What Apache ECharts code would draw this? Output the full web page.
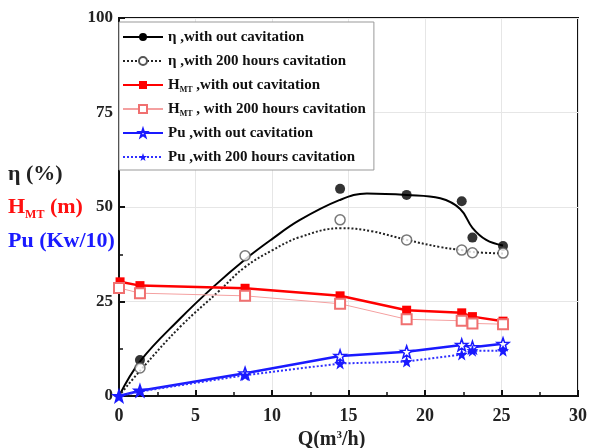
<!DOCTYPE html>
<html>
<head>
<meta charset="utf-8">
<script src="https://cdn.jsdelivr.net/npm/echarts@6/dist/echarts.min.js"></script>
<style>
  html, body { margin: 0; padding: 0; background: #fff; }
  #chart { width: 591px; height: 448px; }
</style>
</head>
<body>
<div id="chart"></div>
<script>
// measured points [Q, value]
const etaNoCav = [[1.37, 9.5], [14.45, 54.8], [18.8, 53.2], [22.4, 51.5], [23.1, 41.9], [25.1, 39.7]];
const eta200h = [[1.37, 7.4], [8.24, 37.1], [14.45, 46.6], [18.8, 41.3], [22.4, 38.6], [23.1, 37.9], [25.1, 37.8]];
// fitted curves
const etaNoCavFit = [[0, 0], [1.4, 9.3], [4, 20.5], [6.2, 29], [8.2, 36], [10, 41.5], [11.8, 46.5], [14.4, 51.8],
  [16.2, 53.6], [18.8, 53.2], [21, 52.3], [22.3, 49.5], [23.1, 44.5], [24, 41.3], [25.1, 39.8]];
const eta200hFit = [[0, 0], [1.4, 6.8], [4, 18.3], [6.6, 28], [8.2, 34], [10, 38.5], [11.8, 42], [14.5, 44.4],
  [16.5, 43.6], [18.8, 41.3], [21, 39.4], [22.4, 38.6], [23.1, 38.1], [25.1, 37.7]];
const hmtNoCav = [[0.07, 30.2], [1.37, 29.2], [8.24, 28.5], [14.45, 26.5], [18.8, 22.7], [22.4, 22], [23.1, 21], [25.1, 19.8]];
const hmt200h = [[0, 28.6], [1.37, 27.2], [8.24, 26.5], [14.45, 24.4], [18.8, 20.3], [22.4, 19.9], [23.1, 19.2], [25.1, 19]];
const puNoCav = [[0, 0], [1.37, 1.4], [8.24, 6], [14.45, 10.6], [18.8, 11.7], [22.4, 13.5], [23.1, 12.9], [25.1, 13.8]];
const pu200h = [[0, 0], [1.37, 1.2], [8.24, 5.5], [14.45, 8.6], [18.8, 9.1], [22.4, 11], [23.1, 12], [25.1, 12]];

const legendNames = [
  "η ,with out cavitation",
  "η ,with 200 hours cavitation",
  "H_MT ,with out cavitation",
  "H_MT , with 200 hours cavitation",
  "Pu ,with out cavitation",
  "Pu ,with 200 hours cavitation",
];

const serif = "Liberation Serif";
const star = "path://M0,-10 L2.35,-3.24 L9.51,-3.09 L3.8,1.24 L5.88,8.09 L0,4 L-5.88,8.09 L-3.8,1.24 L-9.51,-3.09 L-2.35,-3.24 Z";
const chart = echarts.init(document.getElementById("chart"));

const axisLabel = { color: "#222", fontFamily: serif, fontWeight: "bold", fontSize: 17 };

chart.setOption({
  animation: false,
  grid: {
    left: 119, right: 13, top: 18, bottom: 52, outerBoundsMode: "none",
    show: true, borderColor: "#111", borderWidth: 2,
  },
  legend: {
    data: legendNames,
    orient: "vertical",
    left: 119,
    top: 22,
    padding: [6, 8, 4, 3],
    itemGap: 6,
    itemWidth: 40,
    itemHeight: 10,
    backgroundColor: "#fff",
    borderColor: "#999",
    borderWidth: 1,
    borderRadius: 0,
    formatter: (name) => name.replace("H_MT", "H{s|MT}"),
    textStyle: {
      color: "#111",
      fontFamily: serif,
      fontWeight: "bold",
      fontSize: 15,
      lineHeight: 18,
      rich: {
        s: { fontFamily: serif, fontWeight: "bold", fontSize: 8, verticalAlign: "bottom", lineHeight: 18, color: "#111" },
      },
    },
  },
  xAxis: {
    type: "value",
    min: 0,
    max: 30,
    interval: 5,
    name: "Q(m{sup|3}/h)",
    nameLocation: "middle",
    nameGap: 33,
    nameTextStyle: {
      color: "#222", fontFamily: serif, fontWeight: "bold", fontSize: 20, padding: [0, 34, 0, 0],
      rich: { sup: { fontFamily: serif, fontWeight: "bold", fontSize: 11, verticalAlign: "top", color: "#222" } },
    },
    axisLine: { lineStyle: { color: "#111", width: 2 } },
    axisTick: { inside: true, length: 6, lineStyle: { color: "#111", width: 2 } },
    minorTick: { show: true, splitNumber: 2, length: 4, lineStyle: { color: "#111", width: 1.5 } },
    axisLabel: { ...axisLabel, fontSize: 18, margin: 11 },
    splitLine: { show: true, lineStyle: { color: "#e6e6e6", width: 1 } },
  },
  yAxis: {
    type: "value",
    min: 0,
    max: 100,
    interval: 25,
    axisLine: { show: true, lineStyle: { color: "#111", width: 2 } },
    axisTick: { show: true, inside: true, length: 6, lineStyle: { color: "#111", width: 2 } },
    minorTick: { show: true, splitNumber: 2, length: 4, lineStyle: { color: "#111", width: 1.5 } },
    axisLabel: { ...axisLabel, margin: 6 },
    splitLine: { show: true, lineStyle: { color: "#e6e6e6", width: 1 } },
  },
  graphic: [
    { type: "text", left: 8, top: 163, style: { text: "η (%)", fill: "#222", font: `bold 22px "${serif}"` } },
    {
      type: "text", left: 8, top: 196,
      style: {
        text: "H{s|MT} (m)", fill: "#ff1010", font: `bold 22px "${serif}"`,
        rich: { s: { fill: "#ff1010", font: `bold 12px "${serif}"`, verticalAlign: "bottom", lineHeight: 28 } },
      },
    },
    { type: "text", left: 8, top: 230, style: { text: "Pu (Kw/10)", fill: "#1a1aff", font: `bold 22px "${serif}"` } },
  ],
  series: [
    {
      name: legendNames[0], type: "line", data: etaNoCavFit, smooth: 0.4, showSymbol: false,
      symbol: "circle", itemStyle: { color: "#000" }, lineStyle: { color: "#000", width: 2 }, z: 3,
    },
    {
      name: legendNames[1], type: "line", data: eta200hFit, smooth: 0.4, showSymbol: false,
      symbol: "emptyCircle", itemStyle: { color: "#555" }, lineStyle: { color: "#222", width: 2, type: "dotted" }, z: 3,
    },
    {
      name: "etaNoCavPts", type: "scatter", data: etaNoCav, symbol: "circle", symbolSize: 10,
      itemStyle: { color: "#000" }, z: 5,
    },
    {
      name: "eta200hPts", type: "scatter", data: eta200h, symbol: "circle", symbolSize: 10,
      itemStyle: { color: "#fff", borderColor: "#555", borderWidth: 1.5 }, z: 5,
    },
    {
      name: legendNames[2], type: "line", data: hmtNoCav, symbol: "rect", symbolSize: 9,
      itemStyle: { color: "#ff0000" }, lineStyle: { color: "#ff0000", width: 2.5 }, z: 4,
    },
    {
      name: legendNames[3], type: "line", data: hmt200h, symbol: "emptyRect", symbolSize: 10,
      itemStyle: { color: "#f07070", borderWidth: 1.5 }, lineStyle: { color: "#f4a0a0", width: 1 }, z: 4,
    },
    {
      name: legendNames[4], type: "line", data: puNoCav, symbol: star, symbolSize: 12,
      itemStyle: { color: "#fff", borderColor: "#1a1aff", borderWidth: 1.5 }, lineStyle: { color: "#1a1aff", width: 2.5 }, z: 4,
    },
    {
      name: legendNames[5], type: "line", data: pu200h, symbol: star, symbolSize: 12,
      itemStyle: { color: "#1a1aff" }, lineStyle: { color: "#3030ff", width: 2, type: "dotted" }, z: 4,
    },
  ],
});
</script>
</body>
</html>
